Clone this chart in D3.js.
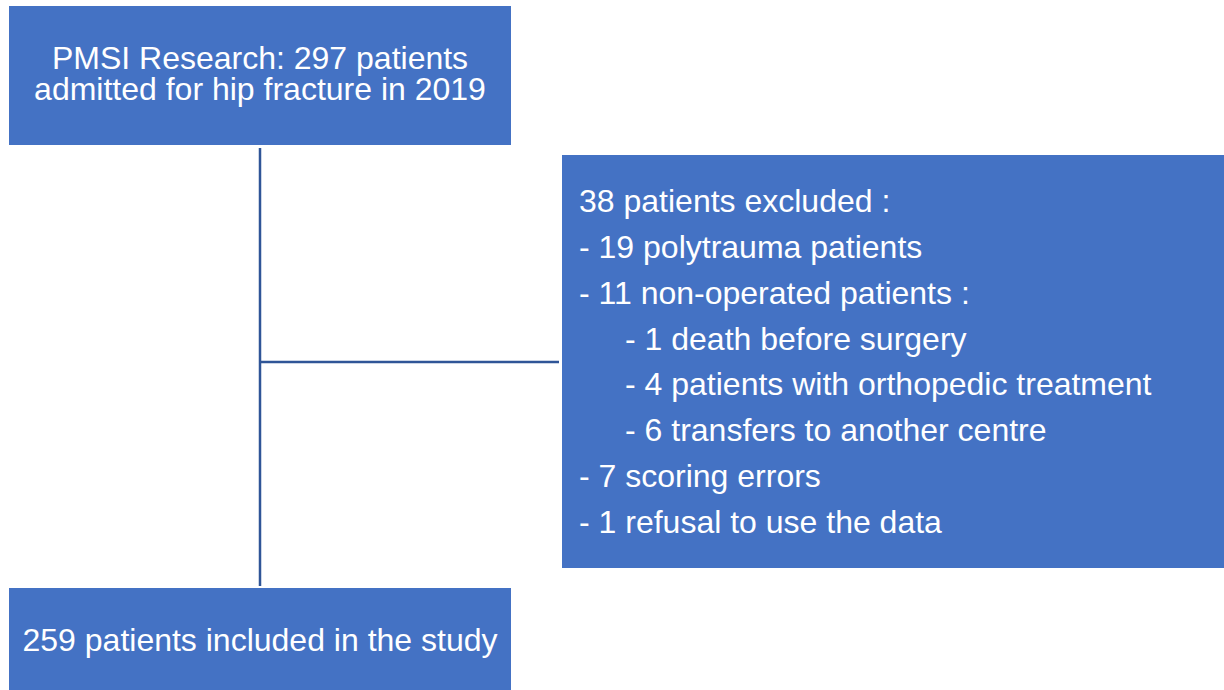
<!DOCTYPE html>
<html>
<head>
<meta charset="utf-8">
<script src="https://cdn.jsdelivr.net/npm/d3@7"></script>
<style>
  html, body { margin: 0; padding: 0; background: #ffffff; }
  svg { display: block; }
</style>
</head>
<body>
<svg id="chart" width="1224" height="690"></svg>
<script>
// ---- content ----
const topLines = ["PMSI Research: 297 patients", "admitted for hip fracture in 2019"];
const bottomLines = ["259 patients included in the study"];
const exclusionLines = [
  "38 patients excluded :",
  "- 19 polytrauma patients",
  "- 11 non-operated patients :",
  "- 1 death before surgery",
  "- 4 patients with orthopedic treatment",
  "- 6 transfers to another centre",
  "- 7 scoring errors",
  "- 1 refusal to use the data"
];
const exclusionIndent = [0, 0, 0, 1, 1, 1, 0, 0];

// ---- layout ----
const W = 1224, H = 690;
const boxFill = "#4472c4";
const lineColor = "#2f5597";
const font = "'Liberation Sans', Arial, sans-serif";
const fontSize = 32;

const topBox = { x: 9, y: 6, w: 502, h: 139 };
const bottomBox = { x: 9, y: 588, w: 502, h: 102 };
const rightBox = { x: 562, y: 155, w: 662, h: 413 };
const trunkX = 260;
const branchY = 362;

const svg = d3.select("#chart");

// connectors
svg.append("line")
  .attr("x1", trunkX).attr("x2", trunkX)
  .attr("y1", 148).attr("y2", 586)
  .attr("stroke", lineColor).attr("stroke-width", 2.5);
svg.append("line")
  .attr("x1", trunkX).attr("x2", 559)
  .attr("y1", branchY).attr("y2", branchY)
  .attr("stroke", lineColor).attr("stroke-width", 2.5);

// boxes
[topBox, bottomBox, rightBox].forEach(b => {
  svg.append("rect")
    .attr("x", b.x).attr("y", b.y).attr("width", b.w).attr("height", b.h)
    .attr("fill", boxFill);
});

// top box text (single text element, one tspan per line)
const topText = svg.append("text")
  .attr("text-anchor", "middle")
  .attr("font-family", font).attr("font-size", fontSize)
  .attr("fill", "#ffffff");
topText.selectAll("tspan").data(topLines).join("tspan")
  .attr("x", topBox.x + topBox.w / 2)
  .attr("y", (d, i) => 68.5 + i * 31)
  .text(d => d);

// bottom box text
svg.append("g").selectAll("text").data(bottomLines).join("text")
  .attr("x", bottomBox.x + bottomBox.w / 2)
  .attr("y", 651)
  .attr("text-anchor", "middle")
  .attr("font-family", font).attr("font-size", fontSize)
  .attr("fill", "#ffffff")
  .text(d => d);

// exclusion list
const rowY = d3.scaleLinear().domain([0, exclusionLines.length - 1]).range([212, 533]);
svg.append("g").selectAll("text").data(exclusionLines).join("text")
  .attr("x", (d, i) => 579 + exclusionIndent[i] * 46)
  .attr("y", (d, i) => rowY(i))
  .attr("font-family", font).attr("font-size", fontSize)
  .attr("fill", "#ffffff")
  .text(d => d);
</script>
</body>
</html>
